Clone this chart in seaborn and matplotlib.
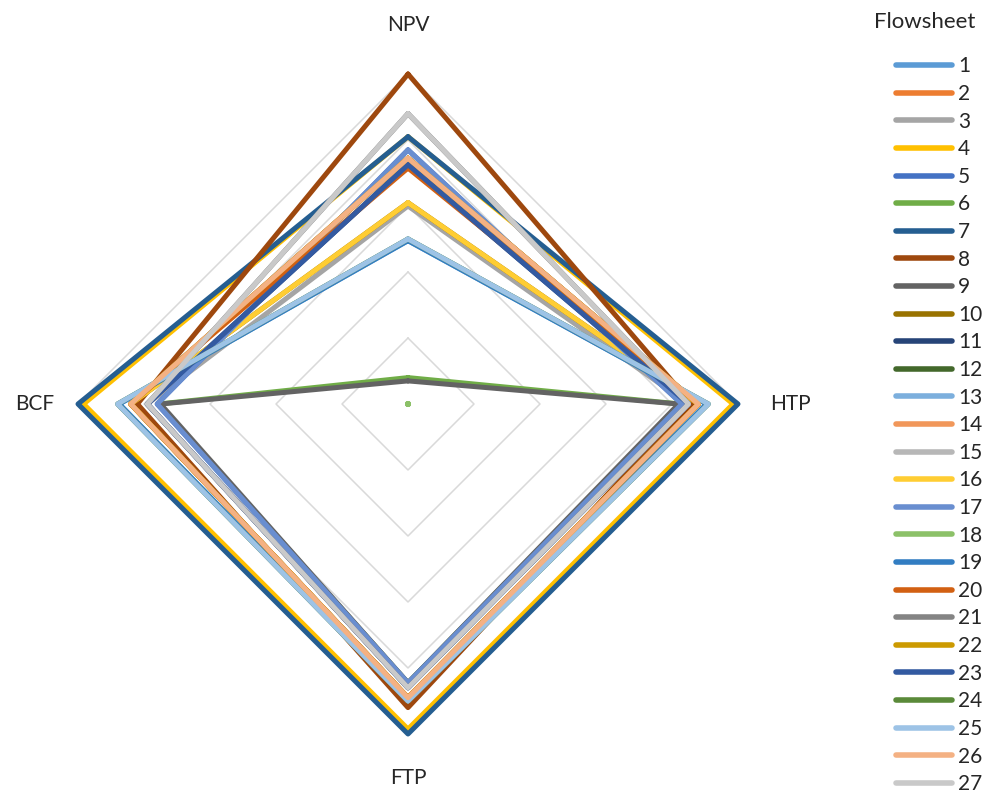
import numpy as np
import pandas as pd
import matplotlib
matplotlib.use("Agg")
import matplotlib.pyplot as plt
import seaborn as sns

# Radar axes, clockwise from the top
metrics = ["NPV", "HTP", "FTP", "BCF"]
flowsheets = [str(i) for i in range(1, 28)]

# Normalised scores per flowsheet (0 = worst, 1 = best)
npv = [0.495, 0.745, 0.600, 0.810, 0.770, 0.080, 0.810, 1.000, 0.070,
       0.610, 0.725, 0.745, 0.500, 0.745, 0.880, 0.610, 0.770, 0.000,
       0.495, 0.715, 0.880, 0.745, 0.725, 0.500, 0.500, 0.745, 0.880]
htp = [0.905, 0.880, 0.850, 0.985, 0.830, 0.825, 1.000, 0.860, 0.820,
       0.880, 0.850, 0.880, 0.910, 0.880, 0.850, 0.880, 0.830, 0.000,
       0.905, 0.880, 0.850, 0.880, 0.850, 0.910, 0.910, 0.880, 0.850]
ftp = [0.895, 0.890, 0.860, 0.985, 0.845, 0.845, 1.000, 0.920, 0.845,
       0.890, 0.860, 0.890, 0.900, 0.890, 0.860, 0.890, 0.845, 0.000,
       0.895, 0.890, 0.860, 0.890, 0.860, 0.900, 0.900, 0.890, 0.860]
bcf = [0.875, 0.840, 0.790, 0.983, 0.760, 0.755, 1.000, 0.820, 0.750,
       0.840, 0.790, 0.840, 0.880, 0.840, 0.790, 0.840, 0.760, 0.000,
       0.875, 0.840, 0.790, 0.840, 0.790, 0.880, 0.880, 0.840, 0.790]

series_colors = ["#5B9BD5", "#ED7D31", "#A5A5A5", "#FFC000", "#4472C4", "#70AD47",
                 "#255E91", "#9E480E", "#636363", "#997300", "#264478", "#43682B",
                 "#7CAFDD", "#F1975A", "#B7B7B7", "#FFCD33", "#698ED0", "#8CC168",
                 "#327DC2", "#D26012", "#848484", "#CC9A00", "#335AA1", "#5A8A39",
                 "#9DC3E6", "#F4B183", "#C9C9C9"]

rings = [0.2, 0.4, 0.6, 0.8, 1.0]

sns.set_theme(style="white")
plt.rcParams["font.family"] = ["Lato", "DejaVu Sans"]

angles = np.deg2rad([0, 90, 180, 270])


def to_xy(r, a):
    return r * np.sin(a), r * np.cos(a)


# Long-form table of closed polygons, one per flowsheet
rows = []
for i, name in enumerate(flowsheets):
    vals = [npv[i], htp[i], ftp[i], bcf[i]]
    for k in range(5):
        j = k % 4
        x, y = to_xy(vals[j], angles[j])
        rows.append({"flowsheet": name, "step": k, "r": vals[j], "x": x, "y": y})
df = pd.DataFrame(rows)

fig = plt.figure(figsize=(9.88, 7.99), dpi=100)
lim = 1.1
cx, cy, rad = 408, 799 - 404, 330 * lim
ax = fig.add_axes([(cx - rad) / 988, (cy - rad) / 799, 2 * rad / 988, 2 * rad / 799])
ax.set_xlim(-lim, lim)
ax.set_ylim(-lim, lim)
ax.set_axis_off()

# Diamond gridlines
for r in rings:
    pts = [to_xy(r, a) for a in angles]
    pts.append(pts[0])
    gx, gy = zip(*pts)
    ax.plot(gx, gy, color="#D9D9D9", lw=1.1, zorder=0)

sns.lineplot(data=df, x="x", y="y", hue="flowsheet", hue_order=flowsheets,
             palette=series_colors, sort=False, estimator=None, legend="full",
             lw=3.6, solid_joinstyle="round", solid_capstyle="round", ax=ax)

# Flowsheets scoring zero on every axis collapse to a dot at the centre
zero_names = [n for n, g in df.groupby("flowsheet") if (g["r"] == 0).all()]
for name in zero_names:
    grp = df[df["flowsheet"] == name]
    sns.scatterplot(data=grp, x="x", y="y", color=series_colors[flowsheets.index(name)],
                    s=18, edgecolor="none", legend=False, ax=ax, zorder=5)

# Axis labels
label_pos = [(0, 1.148), (1.158, 0), (0, -1.133), (-1.13, 0)]
for name, (lx, ly) in zip(metrics, label_pos):
    ax.text(lx, ly, name, ha="center", va="center", fontsize=15, color="#262626")

handles, labels = ax.get_legend_handles_labels()
ax.get_legend().remove()
leg = fig.legend(handles, labels, frameon=False, loc="upper left",
                 bbox_to_anchor=(886 / 988, 1 - 46 / 799), fontsize=15,
                 labelspacing=0.365, handlelength=2.65, handletextpad=0.3, borderpad=0)
for h in leg.legend_handles:
    h.set_linewidth(4)
    h.set_solid_capstyle("round")
for t in leg.get_texts():
    t.set_color("#262626")
fig.text(925 / 988, 1 - 22 / 799, "Flowsheet", ha="center", va="center",
         fontsize=16, color="#262626")

fig.savefig("out.png", dpi=100, facecolor="white")
